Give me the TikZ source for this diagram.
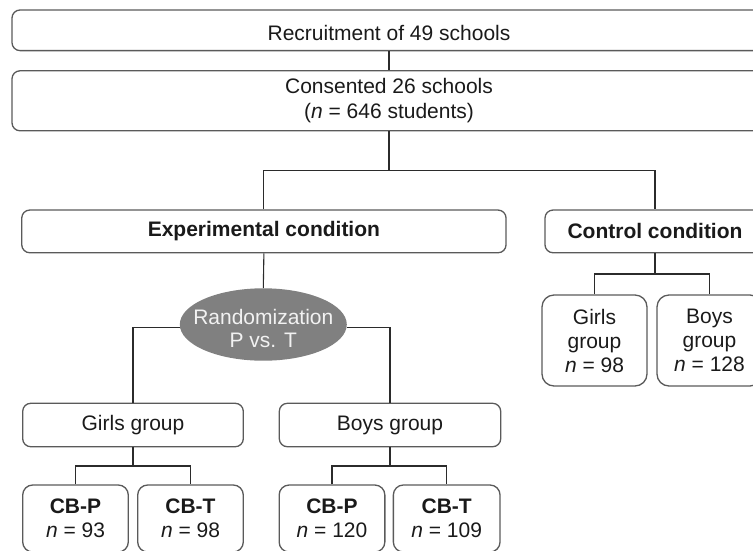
\documentclass[tikz,border=0pt]{standalone}
\usepackage{fontspec}
\setmainfont{Liberation Sans}
\usetikzlibrary{shapes.geometric}
\definecolor{boxc}{HTML}{5A5A5A}
\definecolor{linec}{HTML}{2B2B2B}
\definecolor{txt}{HTML}{1A1A1A}
\definecolor{randc}{HTML}{808080}
\definecolor{randtxt}{HTML}{F2F2F2}
\begin{document}
\begin{tikzpicture}[x=1pt,y=-1pt,
  box/.style={draw=boxc, line width=1.3pt, rounded corners=8pt, inner sep=0pt, align=center,
    font=\fontsize{21}{25.5}\selectfont, text=txt},
  tallbox/.style={box, rounded corners=12pt, font=\fontsize{21}{24}\selectfont},
  conn/.style={draw=linec, line width=1.1pt},
]
\useasboundingbox (0,0) rectangle (753,550);
\clip (0,0) rectangle (753,550);

% top boxes
\node[box, minimum width=754pt, minimum height=40.6pt, text height=21pt, text depth=0pt] (rec) at (389,30.3) {Recruitment of 49 schools};
\node[box, minimum width=754pt, minimum height=60pt] (cons) at (389,100.8) {Consented 26 schools\\(\textit{n} = 646 students)};

% conditions
\node[box, minimum width=484.3pt, minimum height=42.7pt] (exp) at (263.9,231.4) {\textbf{Experimental condition}};
\node[box, minimum width=220pt, minimum height=42.7pt] (ctrl) at (655,231.4) {\textbf{Control condition}};

% randomization
\node[ellipse, fill=randc, draw=none, minimum width=167pt, minimum height=72.4pt, inner sep=0pt] (rand) at (263.3,324.5) {};
\node[text=randtxt, align=center, inner sep=0pt, font=\fontsize{21}{23.5}\selectfont] (randt) at (263.3,328.5) {Randomization\\P vs. T};

% control groups
\node[tallbox, minimum width=105pt, minimum height=91pt] (cg) at (594.5,340.5) {Girls\\group\\\textit{n} = 98};
\node[tallbox, minimum width=105pt, minimum height=91pt] (cb) at (709.5,340.5) {Boys\\group\\\textit{n} = 128};

% experimental groups
\node[box, minimum width=220.6pt, minimum height=43.4pt] (gg) at (133,425) {Girls group};
\node[box, minimum width=221.4pt, minimum height=43.4pt] (bg) at (390,425) {Boys group};

% CB boxes
\node[tallbox, rounded corners=10pt, minimum width=105.6pt, minimum height=67pt] (g1) at (75.5,518.5) {\textbf{CB-P}\\\textit{n} = 93};
\node[tallbox, rounded corners=10pt, minimum width=105.6pt, minimum height=67pt] (g2) at (190.5,518.5) {\textbf{CB-T}\\\textit{n} = 98};
\node[tallbox, rounded corners=10pt, minimum width=105.7pt, minimum height=67pt] (b1) at (332,518.5) {\textbf{CB-P}\\\textit{n} = 120};
\node[tallbox, rounded corners=10pt, minimum width=106.7pt, minimum height=67pt] (b2) at (446.7,518.5) {\textbf{CB-T}\\\textit{n} = 109};

% junction coordinates
\coordinate (j1) at (389,170.7);
\coordinate (jc) at (655,274);
\coordinate (jg) at (133,466);
\coordinate (jb) at (390,466);

% connectors
\draw[conn] (rec.south) -- (cons.north);
\draw[conn] (cons.south) -- (j1);
\draw[conn] (exp.north) |- (j1) -| (ctrl.north);
\draw[conn] (exp.south) -- (rand.north);
\draw[conn] (rand.182) -| (gg.north);
\draw[conn] (rand.-2) -| (bg.north);
\draw[conn] (ctrl.south) -- (jc);
\draw[conn] (cg.north) |- (jc) -| (cb.north);
\draw[conn] (gg.south) -- (jg);
\draw[conn] (g1.north) |- (jg) -| (g2.north);
\draw[conn] (bg.south) -- (jb);
\draw[conn] (b1.north) |- (jb) -| (b2.north);
\end{tikzpicture}
\end{document}
